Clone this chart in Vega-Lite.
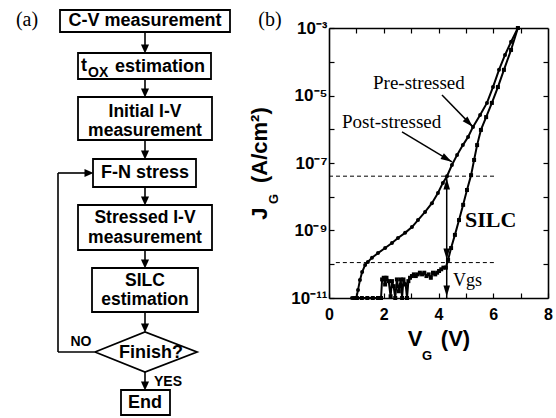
{
  "$schema": "https://vega.github.io/schema/vega-lite/v6.json",
  "padding": 0,
  "spacing": 0,
  "bounds": "flush",
  "background": "white",
  "config": {"view": {"stroke": null}, "font": "Liberation Sans"},
  "hconcat": [
    {
      "width": 329,
      "height": 418,
      "encoding": {
        "x": {"field": "x", "type": "quantitative", "scale": {"domain": [0, 329], "nice": false, "zero": false}, "axis": null},
        "y": {"field": "y", "type": "quantitative", "scale": {"domain": [0, 418], "nice": false, "zero": false, "reverse": true}, "axis": null}
      },
      "layer": [
        {
          "data": {"values": [
            {"x": 145, "y": 32, "x2": 145, "y2": 50},
            {"x": 145, "y": 79, "x2": 145, "y2": 94},
            {"x": 145, "y": 140, "x2": 145, "y2": 156},
            {"x": 145, "y": 187, "x2": 145, "y2": 202},
            {"x": 145, "y": 250, "x2": 145, "y2": 265},
            {"x": 145, "y": 312, "x2": 145, "y2": 329},
            {"x": 145, "y": 372, "x2": 145, "y2": 387},
            {"x": 95, "y": 352, "x2": 58, "y2": 352},
            {"x": 58, "y": 352, "x2": 58, "y2": 173},
            {"x": 58, "y": 173, "x2": 90, "y2": 173}
          ]},
          "mark": {"type": "rule", "color": "black", "strokeWidth": 1.6},
          "encoding": {"x2": {"field": "x2"}, "y2": {"field": "y2"}}
        },
        {
          "data": {"values": [
            {"x": 60, "x2": 230, "y": 10, "y2": 32},
            {"x": 78, "x2": 211, "y": 53, "y2": 79},
            {"x": 78, "x2": 212, "y": 97, "y2": 140},
            {"x": 93, "x2": 196, "y": 159, "y2": 187},
            {"x": 78, "x2": 212, "y": 205, "y2": 250},
            {"x": 92, "x2": 198, "y": 268, "y2": 312},
            {"x": 121, "x2": 170, "y": 390, "y2": 415}
          ]},
          "mark": {"type": "rect", "fill": "white", "stroke": "black", "strokeWidth": 1.8},
          "encoding": {"x2": {"field": "x2"}, "y2": {"field": "y2"}}
        },
        {
          "data": {"values": [
            {"x": 95, "y": 352, "i": 0},
            {"x": 145, "y": 332, "i": 1},
            {"x": 197, "y": 352, "i": 2},
            {"x": 145, "y": 372, "i": 3},
            {"x": 95, "y": 352, "i": 4}
          ]},
          "mark": {"type": "line", "color": "black", "strokeWidth": 1.8},
          "encoding": {"order": {"field": "i", "type": "quantitative"}}
        },
        {
          "data": {"values": [
            {"x": 145, "y": 49}, {"x": 145, "y": 93}, {"x": 145, "y": 155}, {"x": 145, "y": 201},
            {"x": 145, "y": 264}, {"x": 145, "y": 328}, {"x": 145, "y": 386}
          ]},
          "mark": {"type": "point", "shape": "M0,-1L0.9,1L-0.9,1Z", "angle": 180, "size": 81, "filled": true, "color": "black", "opacity": 1, "strokeWidth": 0}
        },
        {
          "data": {"values": [{"x": 89, "y": 173}]},
          "mark": {"type": "point", "shape": "M0,-1L0.9,1L-0.9,1Z", "angle": 90, "size": 81, "filled": true, "color": "black", "opacity": 1, "strokeWidth": 0}
        },
        {
          "data": {"values": [
            {"x": 145, "y": 21, "t": "C-V measurement"},
            {"x": 145, "y": 173, "t": "F-N stress"},
            {"x": 151, "y": 353, "t": "Finish?"},
            {"x": 145, "y": 403, "t": "End"}
          ]},
          "mark": {"type": "text", "font": "Liberation Sans", "fontWeight": "bold", "fontSize": 18, "align": "center", "baseline": "middle", "color": "black"},
          "encoding": {"text": {"field": "t"}}
        },
        {
          "data": {"values": [
            {"x": 145, "y": 112, "t": "Initial I-V"},
            {"x": 145, "y": 131, "t": "measurement"},
            {"x": 145, "y": 218, "t": "Stressed I-V"},
            {"x": 145, "y": 238, "t": "measurement"},
            {"x": 145, "y": 281, "t": "SILC"},
            {"x": 145, "y": 300, "t": "estimation"}
          ]},
          "mark": {"type": "text", "font": "Liberation Sans", "fontWeight": "bold", "fontSize": 17.5, "align": "center", "baseline": "middle", "color": "black"},
          "encoding": {"text": {"field": "t"}}
        },
        {
          "data": {"values": [
            {"x": 81, "y": 66, "t": "t"},
            {"x": 115, "y": 67, "t": "estimation"}
          ]},
          "mark": {"type": "text", "font": "Liberation Sans", "fontWeight": "bold", "fontSize": 18, "align": "left", "baseline": "middle", "color": "black"},
          "encoding": {"text": {"field": "t"}}
        },
        {
          "data": {"values": [{"x": 88, "y": 73, "t": "OX"}]},
          "mark": {"type": "text", "font": "Liberation Sans", "fontWeight": "bold", "fontSize": 14, "align": "left", "baseline": "middle", "color": "black"},
          "encoding": {"text": {"field": "t"}}
        },
        {
          "data": {"values": [
            {"x": 81, "y": 342, "t": "NO"},
            {"x": 168, "y": 382, "t": "YES"}
          ]},
          "mark": {"type": "text", "font": "Liberation Sans", "fontWeight": "bold", "fontSize": 14, "align": "center", "baseline": "middle", "color": "black"},
          "encoding": {"text": {"field": "t"}}
        },
        {
          "data": {"values": [
            {"x": 27, "y": 20, "t": "(a)"},
            {"x": 270, "y": 20, "t": "(b)"}
          ]},
          "mark": {"type": "text", "font": "Liberation Serif", "fontSize": 20, "align": "center", "baseline": "middle", "color": "black"},
          "encoding": {"text": {"field": "t"}}
        },
        {
          "data": {"values": [{"x": 274, "y": 199, "t": "G"}]},
          "mark": {"type": "text", "font": "Liberation Sans", "fontWeight": "bold", "fontSize": 13, "angle": 270, "align": "center", "baseline": "middle", "color": "black"},
          "encoding": {"text": {"field": "t"}}
        }
      ]
    },
    {
      "width": 219,
      "height": 418,
      "resolve": {"axis": {"x": "independent", "y": "independent"}},
      "encoding": {
        "x": {"field": "V", "type": "quantitative", "scale": {"domain": [0, 8], "nice": false, "zero": false}, "axis": null},
        "y": {"field": "J", "type": "quantitative", "scale": {"type": "log", "domain": [1e-11, 1e-3], "range": [298, 28], "nice": false}, "axis": null}
      },
      "layer": [
        {
          "data": {"name": "pre", "values": [
            {"V": 1.02, "J": 1e-11}, {"V": 1.2, "J": 1e-11}, {"V": 1.4, "J": 1e-11}, {"V": 1.6, "J": 1e-11},
            {"V": 1.79, "J": 1e-11}, {"V": 1.9, "J": 1e-11}, {"V": 1.94, "J": 3.548e-11}, {"V": 2.0, "J": 3.981e-11},
            {"V": 2.05, "J": 2.512e-11}, {"V": 2.1, "J": 3.981e-11}, {"V": 2.18, "J": 3.162e-11}, {"V": 2.25, "J": 1.122e-11},
            {"V": 2.3, "J": 3.162e-11}, {"V": 2.36, "J": 2.239e-11}, {"V": 2.42, "J": 1e-11}, {"V": 2.48, "J": 3.548e-11},
            {"V": 2.55, "J": 1.585e-11}, {"V": 2.62, "J": 3.548e-11}, {"V": 2.67, "J": 1e-11}, {"V": 2.72, "J": 3.548e-11},
            {"V": 2.8, "J": 2.512e-11}, {"V": 2.85, "J": 1e-11}, {"V": 2.9, "J": 3.162e-11}, {"V": 2.96, "J": 3.981e-11},
            {"V": 3.03, "J": 4.467e-11}, {"V": 3.1, "J": 5.012e-11}, {"V": 3.17, "J": 4.467e-11}, {"V": 3.24, "J": 5.012e-11},
            {"V": 3.32, "J": 5.623e-11}, {"V": 3.4, "J": 5.012e-11}, {"V": 3.48, "J": 5.623e-11}, {"V": 3.56, "J": 4.467e-11},
            {"V": 3.64, "J": 5.012e-11}, {"V": 3.72, "J": 3.981e-11}, {"V": 3.8, "J": 5.623e-11}, {"V": 3.88, "J": 5.012e-11},
            {"V": 3.95, "J": 5.623e-11}, {"V": 4.02, "J": 6.31e-11}, {"V": 4.1, "J": 7.079e-11}, {"V": 4.18, "J": 7.943e-11},
            {"V": 4.27, "J": 7.943e-11}, {"V": 4.35, "J": 1.349e-10}, {"V": 4.46, "J": 3.02e-10}, {"V": 4.6, "J": 7.41e-10},
            {"V": 4.75, "J": 2.04e-9}, {"V": 4.9, "J": 5.75e-9}, {"V": 5.04, "J": 1.585e-8}, {"V": 5.19, "J": 4.365e-8},
            {"V": 5.3, "J": 1.23e-7}, {"V": 5.41, "J": 3.39e-7}, {"V": 5.55, "J": 9.55e-7}, {"V": 5.74, "J": 2.29e-6},
            {"V": 5.95, "J": 6.03e-6}, {"V": 6.17, "J": 1.778e-5}, {"V": 6.39, "J": 5.75e-5}, {"V": 6.65, "J": 2.239e-4},
            {"V": 6.9, "J": 1e-3}
          ]},
          "mark": {"type": "line", "color": "black", "strokeWidth": 2},
          "encoding": {
            "x": {"field": "V", "type": "quantitative", "scale": {"domain": [0, 8], "nice": false, "zero": false},
              "axis": {"orient": "bottom", "offset": -120, "values": [0, 1, 2, 3, 4, 5, 6, 7, 8],
                "labelExpr": "datum.value % 2 == 0 ? datum.label : ''",
                "tickSize": -5, "tickWidth": 1.2, "tickColor": "black", "domainColor": "black", "domainWidth": 1.6,
                "labelPadding": 13, "labelFont": "Liberation Sans", "labelFontWeight": "bold", "labelFontSize": 16, "labelColor": "black",
                "labelFlush": false, "labelOverlap": false, "grid": false,
                "title": "V\u00a0\u00a0\u00a0(V)", "titleFont": "Liberation Sans", "titleFontWeight": "bold", "titleFontSize": 22, "titleColor": "black", "titlePadding": 6}},
            "y": {"field": "J", "type": "quantitative", "scale": {"type": "log", "domain": [1e-11, 1e-3], "range": [298, 28], "nice": false},
              "axis": {"orient": "left", "values": [1e-11, 1e-10, 1e-9, 1e-8, 1e-7, 1e-6, 1e-5, 1e-4, 1e-3],
                "labelExpr": "indexof([-3,-5,-7,-9,-11], round(log(datum.value)/LN10)) < 0 ? '' : ['10⁻³','10⁻⁵','10⁻⁷','10⁻⁹','10⁻¹¹'][indexof([-3,-5,-7,-9,-11], round(log(datum.value)/LN10))]",
                "tickSize": -5, "tickWidth": 1.2, "tickColor": "black", "domainColor": "black", "domainWidth": 1.6,
                "labelPadding": 7, "labelFont": "Liberation Sans", "labelFontWeight": "bold", "labelFontSize": 17, "labelColor": "black",
                "labelFlush": false, "labelOverlap": false, "grid": false,
                "title": "J\u00a0\u00a0\u00a0\u00a0(A/cm²)", "titleFont": "Liberation Sans", "titleFontWeight": "bold", "titleFontSize": 22, "titleColor": "black", "titlePadding": 19}}
          }
        },
        {
          "data": {"name": "post", "values": [
            {"V": 0.84, "J": 1e-11}, {"V": 0.9, "J": 1e-11}, {"V": 0.95, "J": 1e-11}, {"V": 1.0, "J": 1e-11},
            {"V": 1.06, "J": 1.738e-11}, {"V": 1.13, "J": 3.388e-11}, {"V": 1.21, "J": 5.888e-11}, {"V": 1.32, "J": 9.55e-11},
            {"V": 1.42, "J": 1.175e-10}, {"V": 1.57, "J": 1.549e-10}, {"V": 1.79, "J": 2.138e-10}, {"V": 2.05, "J": 3.02e-10},
            {"V": 2.3, "J": 4.266e-10}, {"V": 2.52, "J": 6.026e-10}, {"V": 2.78, "J": 8.511e-10}, {"V": 3.03, "J": 1.259e-9},
            {"V": 3.25, "J": 2.042e-9}, {"V": 3.51, "J": 3.548e-9}, {"V": 3.76, "J": 6.457e-9}, {"V": 3.98, "J": 1.288e-8},
            {"V": 4.16, "J": 2.57e-8}, {"V": 4.31, "J": 4.074e-8}, {"V": 4.49, "J": 8.71e-8}, {"V": 4.68, "J": 1.738e-7},
            {"V": 4.89, "J": 3.388e-7}, {"V": 5.08, "J": 5.888e-7}, {"V": 5.26, "J": 1.175e-6}, {"V": 5.52, "J": 2.63e-6},
            {"V": 5.77, "J": 6.026e-6}, {"V": 5.99, "J": 1.778e-5}, {"V": 6.21, "J": 5.754e-5}, {"V": 6.43, "J": 1.585e-4},
            {"V": 6.65, "J": 3.89e-4}, {"V": 6.9, "J": 1e-3}
          ]},
          "mark": {"type": "line", "color": "black", "strokeWidth": 2},
          "encoding": {
            "x": {"field": "V", "type": "quantitative", "scale": {"domain": [0, 8], "nice": false, "zero": false},
              "axis": {"orient": "top", "offset": -28, "values": [1, 2, 3, 4, 5, 6, 7], "labels": false, "title": null,
                "tickSize": -5, "tickWidth": 1.2, "tickColor": "black", "domainColor": "black", "domainWidth": 1.6, "grid": false}},
            "y": {"field": "J", "type": "quantitative", "scale": {"type": "log", "domain": [1e-11, 1e-3], "range": [298, 28], "nice": false},
              "axis": {"orient": "right", "values": [1e-10, 1e-9, 1e-8, 1e-7, 1e-6, 1e-5, 1e-4], "labels": false, "title": null,
                "tickSize": -5, "tickWidth": 1.2, "tickColor": "black", "domainColor": "black", "domainWidth": 1.6, "grid": false}}
          }
        },
        {
          "data": {"name": "pre"},
          "mark": {"type": "point", "shape": "square", "size": 16, "filled": true, "color": "black", "opacity": 1, "strokeWidth": 0}
        },
        {
          "data": {"name": "post"},
          "mark": {"type": "point", "shape": "circle", "size": 16, "filled": true, "color": "black", "opacity": 1, "strokeWidth": 0}
        },
        {
          "data": {"values": [
            {"V": 0, "V2": 6.1, "J": 4.07e-8},
            {"V": 0.25, "V2": 6.07, "J": 1.12e-10}
          ]},
          "mark": {"type": "rule", "color": "black", "strokeWidth": 1, "strokeDash": [4, 3]},
          "encoding": {"x2": {"field": "V2"}}
        },
        {
          "data": {"values": [{"V": 4.3, "J": 4.07e-8, "J2": 1e-11}]},
          "mark": {"type": "rule", "color": "black", "strokeWidth": 1.5},
          "encoding": {"y2": {"field": "J2"}}
        },
        {
          "data": {"values": [
            {"V": 4.128, "J": 1.035e-5, "V2": 5.26, "J2": 1.175e-6},
            {"V": 2.667, "J": 8.3e-7, "V2": 4.493, "J2": 1.072e-7}
          ]},
          "mark": {"type": "rule", "color": "black", "strokeWidth": 1.5},
          "encoding": {"x2": {"field": "V2"}, "y2": {"field": "J2"}}
        },
        {
          "data": {"values": [{"V": 4.3, "J": 2.39e-8}]},
          "mark": {"type": "point", "shape": "M0,-1L0.6,1L-0.6,1Z", "angle": 0, "size": 121, "filled": true, "color": "black", "opacity": 1, "strokeWidth": 0}
        },
        {
          "data": {"values": [{"V": 4.3, "J": 2.01e-10}, {"V": 4.3, "J": 1.62e-11}]},
          "mark": {"type": "point", "shape": "M0,-1L0.6,1L-0.6,1Z", "angle": 180, "size": 121, "filled": true, "color": "black", "opacity": 1, "strokeWidth": 0}
        },
        {
          "data": {"values": [{"V": 5.11, "J": 1.549e-6}]},
          "mark": {"type": "point", "shape": "M0,-1L0.6,1L-0.6,1Z", "angle": 136, "size": 121, "filled": true, "color": "black", "opacity": 1, "strokeWidth": 0}
        },
        {
          "data": {"values": [{"V": 4.307, "J": 1.318e-7}]},
          "mark": {"type": "point", "shape": "M0,-1L0.6,1L-0.6,1Z", "angle": 121, "size": 121, "filled": true, "color": "black", "opacity": 1, "strokeWidth": 0}
        },
        {
          "data": {"values": [
            {"V": 1.607, "J": 2.344e-5, "t": "Pre-stressed"},
            {"V": 0.475, "J": 1.64e-6, "t": "Post-stressed"}
          ]},
          "mark": {"type": "text", "font": "Liberation Serif", "fontSize": 19, "align": "left", "baseline": "middle", "color": "black"},
          "encoding": {"text": {"field": "t"}}
        },
        {
          "data": {"values": [{"V": 4.97, "J": 2.04e-9, "t": "SILC"}]},
          "mark": {"type": "text", "font": "Liberation Serif", "fontWeight": "bold", "fontSize": 22, "align": "left", "baseline": "middle", "color": "black"},
          "encoding": {"text": {"field": "t"}}
        },
        {
          "data": {"values": [{"V": 4.53, "J": 3.16e-11, "t": "Vgs"}]},
          "mark": {"type": "text", "font": "Liberation Serif", "fontSize": 18, "align": "left", "baseline": "middle", "color": "black"},
          "encoding": {"text": {"field": "t"}}
        },
        {
          "data": {"values": [{"V": 3.58, "J": 1.9e-13, "t": "G"}]},
          "mark": {"type": "text", "font": "Liberation Sans", "fontWeight": "bold", "fontSize": 13, "align": "center", "baseline": "middle", "color": "black"},
          "encoding": {"text": {"field": "t"}}
        }
      ]
    }
  ]
}
